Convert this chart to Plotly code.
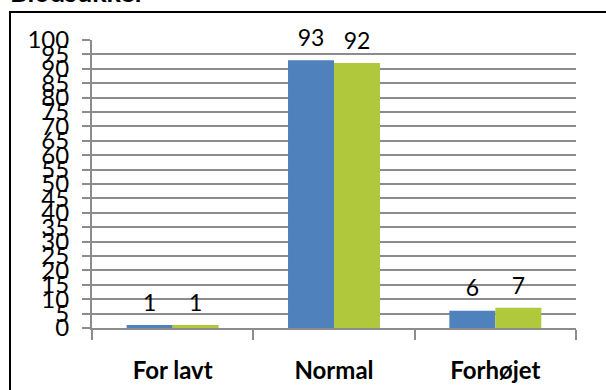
import plotly.graph_objects as go

# data
categories = ["For lavt", "Normal", "Forhøjet"]
series_a = [1, 93, 6]
series_b = [1, 92, 7]
y_ticks = list(range(0, 101, 5))

BLUE = "#4F81BD"
GREEN = "#AFC83C"
FONT = "Lato"

fig = go.Figure()
for vals, col in [(series_a, BLUE), (series_b, GREEN)]:
    fig.add_trace(go.Bar(x=categories, y=vals, marker_color=col,
                         marker_line_width=0, showlegend=False, hoverinfo="y"))
# value labels, grouped like the bars
for vals in [series_a, series_b]:
    fig.add_trace(go.Scatter(x=categories, y=vals, mode="text+markers",
                             text=[str(v) for v in vals], textposition="top center",
                             marker=dict(size=12, opacity=0),
                             textfont=dict(family=FONT, size=23, color="#000"),
                             showlegend=False, hoverinfo="skip", cliponaxis=False))

fig.update_layout(
    width=606, height=390,
    margin=dict(l=92, r=30, t=40, b=62),
    paper_bgcolor="white", plot_bgcolor="white",
    barmode="group", bargap=0.43, bargroupgap=0,
    scattermode="group", scattergap=0.43,
    font=dict(family=FONT, color="#000"),
    showlegend=False,
)
fig.update_yaxes(
    range=[0, 100], tickmode="array", tickvals=y_ticks,
    ticktext=[str(v) for v in y_ticks],
    showgrid=True, gridcolor="#8C8C8C", gridwidth=2,
    showline=True, linecolor="#8C8C8C", linewidth=2,
    ticks="outside", ticklen=8, tickwidth=2, tickcolor="#8C8C8C",
    ticklabelstandoff=8,
    tickfont=dict(family=FONT, size=24, color="#000"),
    zeroline=False, fixedrange=True, automargin=False,
)
fig.update_xaxes(
    showline=True, linecolor="#8C8C8C", linewidth=2,
    ticks="outside", tickson="boundaries", ticklen=10, tickwidth=2, tickcolor="#8C8C8C",
    ticklabelstandoff=20,
    tickfont=dict(family=FONT, size=24, color="#000", weight="bold"),
    showgrid=False, fixedrange=True, automargin=False,
)

# outer chart border (runs off the canvas on the right and bottom)
fig.add_shape(type="rect", xref="paper", yref="paper",
              x0=(10 - 92) / 484, x1=(640 - 92) / 484,
              y0=(328 - 420) / 288, y1=(328 - 12) / 288,
              line=dict(color="#000", width=2), fillcolor="rgba(0,0,0,0)")

# title, cut off at the top edge
fig.add_annotation(text="<b>Blodsukker</b>", xref="paper", yref="paper",
                   x=(8 - 92) / 484, y=(328 + 9) / 288, xanchor="left", yanchor="middle",
                   showarrow=False, font=dict(family=FONT, size=27, color="#000"))

fig.write_html("out.html", config={"displayModeBar": False},
               post_script="document.body.style.margin='0';")
